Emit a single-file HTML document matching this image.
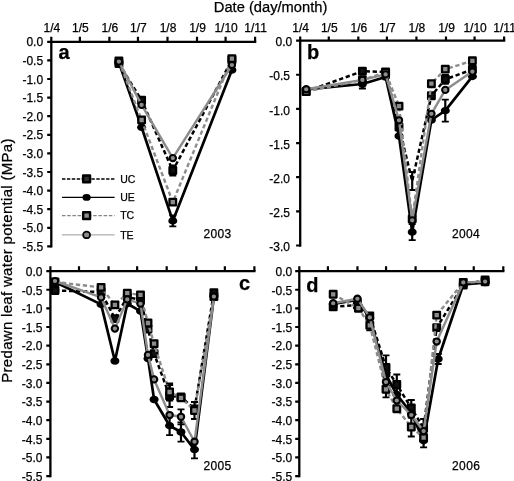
<!DOCTYPE html>
<html><head><meta charset="utf-8"><title>Predawn leaf water potential</title>
<style>
html,body{margin:0;padding:0;background:#fff;}
body{width:514px;height:481px;overflow:hidden;font-family:"Liberation Sans",sans-serif;}
svg{display:block;filter:grayscale(1);}
text{font-family:"Liberation Sans",sans-serif;fill:#000;stroke:#000;stroke-width:0.25px;}
.t{font-size:12px;}
.yr{letter-spacing:0.35px;}
.pl{font-size:20px;font-weight:bold;}
.ti{font-size:14.7px;}
.yl{font-size:15px;letter-spacing:0.3px;}
.lg{font-size:10.5px;}
</style></head><body>
<svg width="514" height="481" viewBox="0 0 514 481">
<rect width="514" height="481" fill="#fff"/>
<path d="M118.9 63.5 L141.6 100.3 L172.8 170.5 L231.9 60" fill="none" stroke="#000" stroke-width="2.5" stroke-dasharray="4.3 2.7" stroke-linejoin="round"/>
<path d="M172.8 165.5 V175.5" fill="none" stroke="#000" stroke-width="2.2"/><path d="M169.3 165.5 h7 M169.3 175.5 h7" fill="none" stroke="#000" stroke-width="1.8"/>
<rect x="115.6" y="60.2" width="6.6" height="6.6" fill="#111" stroke="#000" stroke-width="2.3" stroke-linejoin="round"/>
<rect x="138.3" y="97" width="6.6" height="6.6" fill="#111" stroke="#000" stroke-width="2.3" stroke-linejoin="round"/>
<rect x="169.5" y="167.2" width="6.6" height="6.6" fill="#111" stroke="#000" stroke-width="2.3" stroke-linejoin="round"/>
<rect x="228.6" y="56.7" width="6.6" height="6.6" fill="#111" stroke="#000" stroke-width="2.3" stroke-linejoin="round"/>
<path d="M118.9 62.5 L141.6 127.3 L172.8 220.9 L231.9 70" fill="none" stroke="#000" stroke-width="2.7" stroke-linejoin="round"/>
<path d="M172.8 215.4 V226.4" fill="none" stroke="#000" stroke-width="2.2"/><path d="M169.3 215.4 h7 M169.3 226.4 h7" fill="none" stroke="#000" stroke-width="1.8"/>
<ellipse cx="118.9" cy="62.5" rx="4.5" ry="3.75" fill="#000"/>
<ellipse cx="141.6" cy="127.3" rx="4.5" ry="3.75" fill="#000"/>
<ellipse cx="172.8" cy="220.9" rx="4.5" ry="3.75" fill="#000"/>
<ellipse cx="231.9" cy="70" rx="4.5" ry="3.75" fill="#000"/>
<path d="M118.9 61 L141.6 120 L172.8 202.1 L231.9 58.6" fill="none" stroke="#8c8c8c" stroke-width="2.4" stroke-dasharray="4.3 2.7" stroke-linejoin="round"/>
<rect x="115.6" y="57.7" width="6.6" height="6.6" fill="#8c8c8c" stroke="#000" stroke-width="2.3" stroke-linejoin="round"/>
<rect x="138.3" y="116.7" width="6.6" height="6.6" fill="#8c8c8c" stroke="#000" stroke-width="2.3" stroke-linejoin="round"/>
<rect x="169.5" y="198.8" width="6.6" height="6.6" fill="#8c8c8c" stroke="#000" stroke-width="2.3" stroke-linejoin="round"/>
<rect x="228.6" y="55.3" width="6.6" height="6.6" fill="#8c8c8c" stroke="#000" stroke-width="2.3" stroke-linejoin="round"/>
<path d="M118.9 61.6 L141.6 104.9 L172.8 158.1 L231.9 65" fill="none" stroke="#8c8c8c" stroke-width="2.4" stroke-linejoin="round"/>
<ellipse cx="118.9" cy="61.6" rx="3.2" ry="3.1" fill="#8c8c8c" stroke="#000" stroke-width="2.05"/>
<ellipse cx="141.6" cy="104.9" rx="3.2" ry="3.1" fill="#8c8c8c" stroke="#000" stroke-width="2.05"/>
<ellipse cx="172.8" cy="158.1" rx="3.2" ry="3.1" fill="#8c8c8c" stroke="#000" stroke-width="2.05"/>
<ellipse cx="231.9" cy="65" rx="3.2" ry="3.1" fill="#8c8c8c" stroke="#000" stroke-width="2.05"/>
<path d="M51.3 247.55 V41.8 H256.25" fill="none" stroke="#000" stroke-width="2.3" stroke-linejoin="miter"/>
<path d="M51.3 41.8 V36.8 M79.87 41.8 V36.8 M109.39 41.8 V36.8 M137.96 41.8 V36.8 M167.49 41.8 V36.8 M197.01 41.8 V36.8 M225.58 41.8 V36.8 M255.1 41.8 V36.8 M51.3 41.8 h-4.1 M51.3 60.4 h-4.1 M51.3 79 h-4.1 M51.3 97.6 h-4.1 M51.3 116.2 h-4.1 M51.3 134.8 h-4.1 M51.3 153.4 h-4.1 M51.3 172 h-4.1 M51.3 190.6 h-4.1 M51.3 209.2 h-4.1 M51.3 227.8 h-4.1 M51.3 246.4 h-4.1" fill="none" stroke="#000" stroke-width="2.2"/>
<text x="43.1" y="46.4" text-anchor="end" class="t">0.0</text>
<text x="43.1" y="65" text-anchor="end" class="t">-0.5</text>
<text x="43.1" y="83.6" text-anchor="end" class="t">-1.0</text>
<text x="43.1" y="102.2" text-anchor="end" class="t">-1.5</text>
<text x="43.1" y="120.8" text-anchor="end" class="t">-2.0</text>
<text x="43.1" y="139.4" text-anchor="end" class="t">-2.5</text>
<text x="43.1" y="158" text-anchor="end" class="t">-3.0</text>
<text x="43.1" y="176.6" text-anchor="end" class="t">-3.5</text>
<text x="43.1" y="195.2" text-anchor="end" class="t">-4.0</text>
<text x="43.1" y="213.8" text-anchor="end" class="t">-4.5</text>
<text x="43.1" y="232.4" text-anchor="end" class="t">-5.0</text>
<text x="43.1" y="251" text-anchor="end" class="t">-5.5</text>
<text x="51.8" y="32.2" text-anchor="middle" class="t">1/4</text>
<text x="80.37" y="32.2" text-anchor="middle" class="t">1/5</text>
<text x="109.89" y="32.2" text-anchor="middle" class="t">1/6</text>
<text x="138.46" y="32.2" text-anchor="middle" class="t">1/7</text>
<text x="167.99" y="32.2" text-anchor="middle" class="t">1/8</text>
<text x="197.51" y="32.2" text-anchor="middle" class="t">1/9</text>
<text x="226.08" y="32.2" text-anchor="middle" class="t">1/10</text>
<text x="255.6" y="32.2" text-anchor="middle" class="t">1/11</text>
<path d="M306.2 91.5 L362.4 71.2 L385.6 72 L399 127 L412.2 181 L431.4 95.7 L445.3 79.3 L472.4 69.5" fill="none" stroke="#000" stroke-width="2.5" stroke-dasharray="4.3 2.7" stroke-linejoin="round"/>
<path d="M412.2 172 V190" fill="none" stroke="#000" stroke-width="2.2"/><path d="M408.7 172 h7 M408.7 190 h7" fill="none" stroke="#000" stroke-width="1.8"/>
<path d="M445.3 74.8 V83.8" fill="none" stroke="#000" stroke-width="2.2"/><path d="M441.8 74.8 h7 M441.8 83.8 h7" fill="none" stroke="#000" stroke-width="1.8"/>
<rect x="302.9" y="88.2" width="6.6" height="6.6" fill="#111" stroke="#000" stroke-width="2.3" stroke-linejoin="round"/>
<rect x="359.1" y="67.9" width="6.6" height="6.6" fill="#111" stroke="#000" stroke-width="2.3" stroke-linejoin="round"/>
<rect x="382.3" y="68.7" width="6.6" height="6.6" fill="#111" stroke="#000" stroke-width="2.3" stroke-linejoin="round"/>
<rect x="395.7" y="123.7" width="6.6" height="6.6" fill="#111" stroke="#000" stroke-width="2.3" stroke-linejoin="round"/>
<rect x="428.1" y="92.4" width="6.6" height="6.6" fill="#111" stroke="#000" stroke-width="2.3" stroke-linejoin="round"/>
<rect x="442" y="76" width="6.6" height="6.6" fill="#111" stroke="#000" stroke-width="2.3" stroke-linejoin="round"/>
<rect x="469.1" y="66.2" width="6.6" height="6.6" fill="#111" stroke="#000" stroke-width="2.3" stroke-linejoin="round"/>
<path d="M306.2 89.5 L362.4 84 L385.6 77 L399 136 L412.2 232.1 L431.4 120 L445.3 110.7 L472.4 76.4" fill="none" stroke="#000" stroke-width="2.7" stroke-linejoin="round"/>
<path d="M362.4 79.5 V88.5" fill="none" stroke="#000" stroke-width="2.2"/><path d="M358.9 79.5 h7 M358.9 88.5 h7" fill="none" stroke="#000" stroke-width="1.8"/>
<path d="M412.2 224.1 V240.1" fill="none" stroke="#000" stroke-width="2.2"/><path d="M408.7 224.1 h7 M408.7 240.1 h7" fill="none" stroke="#000" stroke-width="1.8"/>
<path d="M445.3 99.7 V121.7" fill="none" stroke="#000" stroke-width="2.2"/><path d="M441.8 99.7 h7 M441.8 121.7 h7" fill="none" stroke="#000" stroke-width="1.8"/>
<ellipse cx="306.2" cy="89.5" rx="4.5" ry="3.75" fill="#000"/>
<ellipse cx="362.4" cy="84" rx="4.5" ry="3.75" fill="#000"/>
<ellipse cx="385.6" cy="77" rx="4.5" ry="3.75" fill="#000"/>
<ellipse cx="399" cy="136" rx="4.5" ry="3.75" fill="#000"/>
<ellipse cx="412.2" cy="232.1" rx="4.5" ry="3.75" fill="#000"/>
<ellipse cx="431.4" cy="120" rx="4.5" ry="3.75" fill="#000"/>
<ellipse cx="445.3" cy="110.7" rx="4.5" ry="3.75" fill="#000"/>
<ellipse cx="472.4" cy="76.4" rx="4.5" ry="3.75" fill="#000"/>
<path d="M306.2 91.5 L362.4 80 L385.6 72.4 L399 106.1 L412.2 219 L431.4 83.7 L445.3 69.1 L472.4 60.8" fill="none" stroke="#8c8c8c" stroke-width="2.4" stroke-dasharray="4.3 2.7" stroke-linejoin="round"/>
<rect x="302.9" y="88.2" width="6.6" height="6.6" fill="#8c8c8c" stroke="#000" stroke-width="2.3" stroke-linejoin="round"/>
<rect x="359.1" y="76.7" width="6.6" height="6.6" fill="#8c8c8c" stroke="#000" stroke-width="2.3" stroke-linejoin="round"/>
<rect x="382.3" y="69.1" width="6.6" height="6.6" fill="#8c8c8c" stroke="#000" stroke-width="2.3" stroke-linejoin="round"/>
<rect x="395.7" y="102.8" width="6.6" height="6.6" fill="#8c8c8c" stroke="#000" stroke-width="2.3" stroke-linejoin="round"/>
<rect x="408.9" y="215.7" width="6.6" height="6.6" fill="#8c8c8c" stroke="#000" stroke-width="2.3" stroke-linejoin="round"/>
<rect x="428.1" y="80.4" width="6.6" height="6.6" fill="#8c8c8c" stroke="#000" stroke-width="2.3" stroke-linejoin="round"/>
<rect x="442" y="65.8" width="6.6" height="6.6" fill="#8c8c8c" stroke="#000" stroke-width="2.3" stroke-linejoin="round"/>
<rect x="469.1" y="57.5" width="6.6" height="6.6" fill="#8c8c8c" stroke="#000" stroke-width="2.3" stroke-linejoin="round"/>
<path d="M306.2 89.2 L362.4 79.9 L385.6 74.4 L399 120.3 L412.2 220.3 L431.4 113.8 L445.3 89.9 L472.4 71.6" fill="none" stroke="#8c8c8c" stroke-width="2.4" stroke-linejoin="round"/>
<ellipse cx="306.2" cy="89.2" rx="3.2" ry="3.1" fill="#8c8c8c" stroke="#000" stroke-width="2.05"/>
<ellipse cx="362.4" cy="79.9" rx="3.2" ry="3.1" fill="#8c8c8c" stroke="#000" stroke-width="2.05"/>
<ellipse cx="385.6" cy="74.4" rx="3.2" ry="3.1" fill="#8c8c8c" stroke="#000" stroke-width="2.05"/>
<ellipse cx="399" cy="120.3" rx="3.2" ry="3.1" fill="#8c8c8c" stroke="#000" stroke-width="2.05"/>
<ellipse cx="412.2" cy="220.3" rx="3.2" ry="3.1" fill="#8c8c8c" stroke="#000" stroke-width="2.05"/>
<ellipse cx="431.4" cy="113.8" rx="3.2" ry="3.1" fill="#8c8c8c" stroke="#000" stroke-width="2.05"/>
<ellipse cx="445.3" cy="89.9" rx="3.2" ry="3.1" fill="#8c8c8c" stroke="#000" stroke-width="2.05"/>
<ellipse cx="472.4" cy="71.6" rx="3.2" ry="3.1" fill="#8c8c8c" stroke="#000" stroke-width="2.05"/>
<path d="M300.2 246.65 V40.6 H505.25" fill="none" stroke="#000" stroke-width="2.3" stroke-linejoin="miter"/>
<path d="M300.2 40.6 V36.6 M328.78 40.6 V36.6 M358.32 40.6 V36.6 M386.91 40.6 V36.6 M416.44 40.6 V36.6 M445.98 40.6 V36.6 M474.56 40.6 V36.6 M504.1 40.6 V36.6 M300.2 40.6 h-4.1 M300.2 74.75 h-4.1 M300.2 108.9 h-4.1 M300.2 143.05 h-4.1 M300.2 177.2 h-4.1 M300.2 211.35 h-4.1 M300.2 245.5 h-4.1" fill="none" stroke="#000" stroke-width="2.2"/>
<text x="292.3" y="46.2" text-anchor="end" class="t">0.0</text>
<text x="290" y="80.35" text-anchor="end" class="t">-0.5</text>
<text x="290" y="114.5" text-anchor="end" class="t">-1.0</text>
<text x="290" y="148.65" text-anchor="end" class="t">-1.5</text>
<text x="290" y="182.8" text-anchor="end" class="t">-2.0</text>
<text x="290" y="216.95" text-anchor="end" class="t">-2.5</text>
<text x="290" y="251.1" text-anchor="end" class="t">-3.0</text>
<text x="300.7" y="31.7" text-anchor="middle" class="t">1/4</text>
<text x="329.28" y="31.7" text-anchor="middle" class="t">1/5</text>
<text x="358.82" y="31.7" text-anchor="middle" class="t">1/6</text>
<text x="387.41" y="31.7" text-anchor="middle" class="t">1/7</text>
<text x="416.94" y="31.7" text-anchor="middle" class="t">1/8</text>
<text x="446.48" y="31.7" text-anchor="middle" class="t">1/9</text>
<text x="475.06" y="31.7" text-anchor="middle" class="t">1/10</text>
<text x="504.6" y="31.7" text-anchor="middle" class="t">1/11</text>
<path d="M55 290.5 L101.1 292 L114.9 318.6 L127.3 297 L140.5 300 L148 329 L154.1 353.6 L169.6 396 L181 397 L194.5 409 L213.9 292.8" fill="none" stroke="#000" stroke-width="2.5" stroke-dasharray="4.3 2.7" stroke-linejoin="round"/>
<path d="M169.6 385 V407" fill="none" stroke="#000" stroke-width="2.2"/><path d="M166.1 385 h7 M166.1 407 h7" fill="none" stroke="#000" stroke-width="1.8"/>
<rect x="51.7" y="287.2" width="6.6" height="6.6" fill="#111" stroke="#000" stroke-width="2.3" stroke-linejoin="round"/>
<rect x="97.8" y="288.7" width="6.6" height="6.6" fill="#111" stroke="#000" stroke-width="2.3" stroke-linejoin="round"/>
<rect x="111.6" y="315.3" width="6.6" height="6.6" fill="#111" stroke="#000" stroke-width="2.3" stroke-linejoin="round"/>
<rect x="124" y="293.7" width="6.6" height="6.6" fill="#111" stroke="#000" stroke-width="2.3" stroke-linejoin="round"/>
<rect x="137.2" y="296.7" width="6.6" height="6.6" fill="#111" stroke="#000" stroke-width="2.3" stroke-linejoin="round"/>
<rect x="144.7" y="325.7" width="6.6" height="6.6" fill="#111" stroke="#000" stroke-width="2.3" stroke-linejoin="round"/>
<rect x="150.8" y="350.3" width="6.6" height="6.6" fill="#111" stroke="#000" stroke-width="2.3" stroke-linejoin="round"/>
<rect x="166.3" y="392.7" width="6.6" height="6.6" fill="#111" stroke="#000" stroke-width="2.3" stroke-linejoin="round"/>
<rect x="177.7" y="393.7" width="6.6" height="6.6" fill="#111" stroke="#000" stroke-width="2.3" stroke-linejoin="round"/>
<rect x="191.2" y="405.7" width="6.6" height="6.6" fill="#111" stroke="#000" stroke-width="2.3" stroke-linejoin="round"/>
<rect x="210.6" y="289.5" width="6.6" height="6.6" fill="#111" stroke="#000" stroke-width="2.3" stroke-linejoin="round"/>
<path d="M55 282 L101.1 304.4 L114.9 361 L127.3 303.7 L140.5 311.1 L148 358.6 L154.1 399.5 L169.6 425.7 L181 432 L194.5 449.6 L213.9 296.5" fill="none" stroke="#000" stroke-width="2.7" stroke-linejoin="round"/>
<path d="M169.6 416.2 V435.2" fill="none" stroke="#000" stroke-width="2.2"/><path d="M166.1 416.2 h7 M166.1 435.2 h7" fill="none" stroke="#000" stroke-width="1.8"/>
<path d="M181 422.3 V441.7" fill="none" stroke="#000" stroke-width="2.2"/><path d="M177.5 422.3 h7 M177.5 441.7 h7" fill="none" stroke="#000" stroke-width="1.8"/>
<path d="M194.5 440.8 V458.4" fill="none" stroke="#000" stroke-width="2.2"/><path d="M191 440.8 h7 M191 458.4 h7" fill="none" stroke="#000" stroke-width="1.8"/>
<ellipse cx="55" cy="282" rx="4.5" ry="3.75" fill="#000"/>
<ellipse cx="101.1" cy="304.4" rx="4.5" ry="3.75" fill="#000"/>
<ellipse cx="114.9" cy="361" rx="4.5" ry="3.75" fill="#000"/>
<ellipse cx="127.3" cy="303.7" rx="4.5" ry="3.75" fill="#000"/>
<ellipse cx="140.5" cy="311.1" rx="4.5" ry="3.75" fill="#000"/>
<ellipse cx="148" cy="358.6" rx="4.5" ry="3.75" fill="#000"/>
<ellipse cx="154.1" cy="399.5" rx="4.5" ry="3.75" fill="#000"/>
<ellipse cx="169.6" cy="425.7" rx="4.5" ry="3.75" fill="#000"/>
<ellipse cx="181" cy="432" rx="4.5" ry="3.75" fill="#000"/>
<ellipse cx="194.5" cy="449.6" rx="4.5" ry="3.75" fill="#000"/>
<ellipse cx="213.9" cy="296.5" rx="4.5" ry="3.75" fill="#000"/>
<path d="M55 282 L101.1 287.4 L114.9 304.9 L127.3 293.2 L140.5 294.9 L148 323 L154.1 343.7 L169.6 392 L181 397.8 L194.5 410.5 L213.9 296.6" fill="none" stroke="#8c8c8c" stroke-width="2.4" stroke-dasharray="4.3 2.7" stroke-linejoin="round"/>
<path d="M169.6 383.5 V400.5" fill="none" stroke="#000" stroke-width="2.2"/><path d="M166.1 383.5 h7 M166.1 400.5 h7" fill="none" stroke="#000" stroke-width="1.8"/>
<path d="M194.5 402 V419" fill="none" stroke="#000" stroke-width="2.2"/><path d="M191 402 h7 M191 419 h7" fill="none" stroke="#000" stroke-width="1.8"/>
<rect x="51.7" y="278.7" width="6.6" height="6.6" fill="#8c8c8c" stroke="#000" stroke-width="2.3" stroke-linejoin="round"/>
<rect x="97.8" y="284.1" width="6.6" height="6.6" fill="#8c8c8c" stroke="#000" stroke-width="2.3" stroke-linejoin="round"/>
<rect x="111.6" y="301.6" width="6.6" height="6.6" fill="#8c8c8c" stroke="#000" stroke-width="2.3" stroke-linejoin="round"/>
<rect x="124" y="289.9" width="6.6" height="6.6" fill="#8c8c8c" stroke="#000" stroke-width="2.3" stroke-linejoin="round"/>
<rect x="137.2" y="291.6" width="6.6" height="6.6" fill="#8c8c8c" stroke="#000" stroke-width="2.3" stroke-linejoin="round"/>
<rect x="144.7" y="319.7" width="6.6" height="6.6" fill="#8c8c8c" stroke="#000" stroke-width="2.3" stroke-linejoin="round"/>
<rect x="150.8" y="340.4" width="6.6" height="6.6" fill="#8c8c8c" stroke="#000" stroke-width="2.3" stroke-linejoin="round"/>
<rect x="166.3" y="388.7" width="6.6" height="6.6" fill="#8c8c8c" stroke="#000" stroke-width="2.3" stroke-linejoin="round"/>
<rect x="177.7" y="394.5" width="6.6" height="6.6" fill="#8c8c8c" stroke="#000" stroke-width="2.3" stroke-linejoin="round"/>
<rect x="191.2" y="407.2" width="6.6" height="6.6" fill="#8c8c8c" stroke="#000" stroke-width="2.3" stroke-linejoin="round"/>
<rect x="210.6" y="293.3" width="6.6" height="6.6" fill="#8c8c8c" stroke="#000" stroke-width="2.3" stroke-linejoin="round"/>
<path d="M55 281 L101.1 297.4 L114.9 328.6 L127.3 299.4 L140.5 303.7 L148 354.9 L154.1 379.4 L169.6 415 L181 416.8 L194.5 441.7 L213.9 296.6" fill="none" stroke="#8c8c8c" stroke-width="2.4" stroke-linejoin="round"/>
<path d="M181 409.3 V424.3" fill="none" stroke="#000" stroke-width="2.2"/><path d="M177.5 409.3 h7 M177.5 424.3 h7" fill="none" stroke="#000" stroke-width="1.8"/>
<ellipse cx="55" cy="281" rx="3.2" ry="3.1" fill="#8c8c8c" stroke="#000" stroke-width="2.05"/>
<ellipse cx="101.1" cy="297.4" rx="3.2" ry="3.1" fill="#8c8c8c" stroke="#000" stroke-width="2.05"/>
<ellipse cx="114.9" cy="328.6" rx="3.2" ry="3.1" fill="#8c8c8c" stroke="#000" stroke-width="2.05"/>
<ellipse cx="127.3" cy="299.4" rx="3.2" ry="3.1" fill="#8c8c8c" stroke="#000" stroke-width="2.05"/>
<ellipse cx="140.5" cy="303.7" rx="3.2" ry="3.1" fill="#8c8c8c" stroke="#000" stroke-width="2.05"/>
<ellipse cx="148" cy="354.9" rx="3.2" ry="3.1" fill="#8c8c8c" stroke="#000" stroke-width="2.05"/>
<ellipse cx="154.1" cy="379.4" rx="3.2" ry="3.1" fill="#8c8c8c" stroke="#000" stroke-width="2.05"/>
<ellipse cx="169.6" cy="415" rx="3.2" ry="3.1" fill="#8c8c8c" stroke="#000" stroke-width="2.05"/>
<ellipse cx="181" cy="416.8" rx="3.2" ry="3.1" fill="#8c8c8c" stroke="#000" stroke-width="2.05"/>
<ellipse cx="194.5" cy="441.7" rx="3.2" ry="3.1" fill="#8c8c8c" stroke="#000" stroke-width="2.05"/>
<ellipse cx="213.9" cy="296.6" rx="3.2" ry="3.1" fill="#8c8c8c" stroke="#000" stroke-width="2.05"/>
<path d="M50.4 477.25 V271.1 H255.55" fill="none" stroke="#000" stroke-width="2.3" stroke-linejoin="miter"/>
<path d="M50.4 271.1 V266.3 M79 271.1 V266.3 M108.55 271.1 V266.3 M137.15 271.1 V266.3 M166.7 271.1 V266.3 M196.25 271.1 V266.3 M224.85 271.1 V266.3 M254.4 271.1 V266.3 M50.4 271.1 h-4.1 M50.4 289.74 h-4.1 M50.4 308.37 h-4.1 M50.4 327.01 h-4.1 M50.4 345.65 h-4.1 M50.4 364.28 h-4.1 M50.4 382.92 h-4.1 M50.4 401.55 h-4.1 M50.4 420.19 h-4.1 M50.4 438.83 h-4.1 M50.4 457.46 h-4.1 M50.4 476.1 h-4.1" fill="none" stroke="#000" stroke-width="2.2"/>
<text x="42.5" y="275.9" text-anchor="end" class="t">0.0</text>
<text x="42.5" y="294.54" text-anchor="end" class="t">-0.5</text>
<text x="42.5" y="313.17" text-anchor="end" class="t">-1.0</text>
<text x="42.5" y="331.81" text-anchor="end" class="t">-1.5</text>
<text x="42.5" y="350.45" text-anchor="end" class="t">-2.0</text>
<text x="42.5" y="369.08" text-anchor="end" class="t">-2.5</text>
<text x="42.5" y="387.72" text-anchor="end" class="t">-3.0</text>
<text x="42.5" y="406.35" text-anchor="end" class="t">-3.5</text>
<text x="42.5" y="424.99" text-anchor="end" class="t">-4.0</text>
<text x="42.5" y="443.63" text-anchor="end" class="t">-4.5</text>
<text x="42.5" y="462.26" text-anchor="end" class="t">-5.0</text>
<text x="42.5" y="480.9" text-anchor="end" class="t">-5.5</text>
<path d="M333.2 306.9 L357.4 305 L369.8 316 L386 367.4 L396.8 384.5 L411.3 408 L423.6 428 L436.7 327.6 L463.3 285 L485.1 279.9" fill="none" stroke="#000" stroke-width="2.5" stroke-dasharray="4.3 2.7" stroke-linejoin="round"/>
<path d="M386 355.4 V379.4" fill="none" stroke="#000" stroke-width="2.2"/><path d="M382.5 355.4 h7 M382.5 379.4 h7" fill="none" stroke="#000" stroke-width="1.8"/>
<path d="M396.8 374.5 V394.5" fill="none" stroke="#000" stroke-width="2.2"/><path d="M393.3 374.5 h7 M393.3 394.5 h7" fill="none" stroke="#000" stroke-width="1.8"/>
<path d="M411.3 400 V416" fill="none" stroke="#000" stroke-width="2.2"/><path d="M407.8 400 h7 M407.8 416 h7" fill="none" stroke="#000" stroke-width="1.8"/>
<path d="M423.6 419 V437" fill="none" stroke="#000" stroke-width="2.2"/><path d="M420.1 419 h7 M420.1 437 h7" fill="none" stroke="#000" stroke-width="1.8"/>
<rect x="329.9" y="303.6" width="6.6" height="6.6" fill="#111" stroke="#000" stroke-width="2.3" stroke-linejoin="round"/>
<rect x="354.1" y="301.7" width="6.6" height="6.6" fill="#111" stroke="#000" stroke-width="2.3" stroke-linejoin="round"/>
<rect x="366.5" y="312.7" width="6.6" height="6.6" fill="#111" stroke="#000" stroke-width="2.3" stroke-linejoin="round"/>
<rect x="382.7" y="364.1" width="6.6" height="6.6" fill="#111" stroke="#000" stroke-width="2.3" stroke-linejoin="round"/>
<rect x="393.5" y="381.2" width="6.6" height="6.6" fill="#111" stroke="#000" stroke-width="2.3" stroke-linejoin="round"/>
<rect x="408" y="404.7" width="6.6" height="6.6" fill="#111" stroke="#000" stroke-width="2.3" stroke-linejoin="round"/>
<rect x="420.3" y="424.7" width="6.6" height="6.6" fill="#111" stroke="#000" stroke-width="2.3" stroke-linejoin="round"/>
<rect x="433.4" y="324.3" width="6.6" height="6.6" fill="#111" stroke="#000" stroke-width="2.3" stroke-linejoin="round"/>
<rect x="460" y="281.7" width="6.6" height="6.6" fill="#111" stroke="#000" stroke-width="2.3" stroke-linejoin="round"/>
<rect x="481.8" y="276.6" width="6.6" height="6.6" fill="#111" stroke="#000" stroke-width="2.3" stroke-linejoin="round"/>
<path d="M333.2 304 L357.4 300 L369.8 318 L386 375 L396.8 394.5 L411.3 413 L423.6 440.7 L438.2 359 L463.3 284.5 L485.1 282.6" fill="none" stroke="#000" stroke-width="2.7" stroke-linejoin="round"/>
<path d="M423.6 434 V447.4" fill="none" stroke="#000" stroke-width="2.2"/><path d="M420.1 434 h7 M420.1 447.4 h7" fill="none" stroke="#000" stroke-width="1.8"/>
<path d="M438.2 354 V364" fill="none" stroke="#000" stroke-width="2.2"/><path d="M434.7 354 h7 M434.7 364 h7" fill="none" stroke="#000" stroke-width="1.8"/>
<ellipse cx="333.2" cy="304" rx="4.5" ry="3.75" fill="#000"/>
<ellipse cx="357.4" cy="300" rx="4.5" ry="3.75" fill="#000"/>
<ellipse cx="369.8" cy="318" rx="4.5" ry="3.75" fill="#000"/>
<ellipse cx="386" cy="375" rx="4.5" ry="3.75" fill="#000"/>
<ellipse cx="396.8" cy="394.5" rx="4.5" ry="3.75" fill="#000"/>
<ellipse cx="411.3" cy="413" rx="4.5" ry="3.75" fill="#000"/>
<ellipse cx="423.6" cy="440.7" rx="4.5" ry="3.75" fill="#000"/>
<ellipse cx="438.2" cy="359" rx="4.5" ry="3.75" fill="#000"/>
<ellipse cx="463.3" cy="284.5" rx="4.5" ry="3.75" fill="#000"/>
<ellipse cx="485.1" cy="282.6" rx="4.5" ry="3.75" fill="#000"/>
<path d="M333.2 294.3 L358.4 308.2 L369.8 325.4 L386 389.3 L396.8 408.7 L411.3 427 L423.6 437.7 L436.7 315.1 L463.3 282.4 L485.1 281.8" fill="none" stroke="#8c8c8c" stroke-width="2.4" stroke-dasharray="4.3 2.7" stroke-linejoin="round"/>
<path d="M369.8 320.4 V330.4" fill="none" stroke="#000" stroke-width="2.2"/><path d="M366.3 320.4 h7 M366.3 330.4 h7" fill="none" stroke="#000" stroke-width="1.8"/>
<path d="M386 381.3 V397.3" fill="none" stroke="#000" stroke-width="2.2"/><path d="M382.5 381.3 h7 M382.5 397.3 h7" fill="none" stroke="#000" stroke-width="1.8"/>
<path d="M411.3 417.5 V436.5" fill="none" stroke="#000" stroke-width="2.2"/><path d="M407.8 417.5 h7 M407.8 436.5 h7" fill="none" stroke="#000" stroke-width="1.8"/>
<rect x="329.9" y="291" width="6.6" height="6.6" fill="#8c8c8c" stroke="#000" stroke-width="2.3" stroke-linejoin="round"/>
<rect x="355.1" y="304.9" width="6.6" height="6.6" fill="#8c8c8c" stroke="#000" stroke-width="2.3" stroke-linejoin="round"/>
<rect x="366.5" y="322.1" width="6.6" height="6.6" fill="#8c8c8c" stroke="#000" stroke-width="2.3" stroke-linejoin="round"/>
<rect x="382.7" y="386" width="6.6" height="6.6" fill="#8c8c8c" stroke="#000" stroke-width="2.3" stroke-linejoin="round"/>
<rect x="393.5" y="405.4" width="6.6" height="6.6" fill="#8c8c8c" stroke="#000" stroke-width="2.3" stroke-linejoin="round"/>
<rect x="408" y="423.7" width="6.6" height="6.6" fill="#8c8c8c" stroke="#000" stroke-width="2.3" stroke-linejoin="round"/>
<rect x="420.3" y="434.4" width="6.6" height="6.6" fill="#8c8c8c" stroke="#000" stroke-width="2.3" stroke-linejoin="round"/>
<rect x="433.4" y="311.8" width="6.6" height="6.6" fill="#8c8c8c" stroke="#000" stroke-width="2.3" stroke-linejoin="round"/>
<rect x="460" y="279.1" width="6.6" height="6.6" fill="#8c8c8c" stroke="#000" stroke-width="2.3" stroke-linejoin="round"/>
<rect x="481.8" y="278.5" width="6.6" height="6.6" fill="#8c8c8c" stroke="#000" stroke-width="2.3" stroke-linejoin="round"/>
<path d="M333.2 303.2 L357.4 298.7 L369.8 317.4 L386 382 L396.8 400.5 L411.3 415 L423.6 431.1 L436.7 341.5 L463.3 282.4 L485.1 281.6" fill="none" stroke="#8c8c8c" stroke-width="2.4" stroke-linejoin="round"/>
<ellipse cx="333.2" cy="303.2" rx="3.2" ry="3.1" fill="#8c8c8c" stroke="#000" stroke-width="2.05"/>
<ellipse cx="357.4" cy="298.7" rx="3.2" ry="3.1" fill="#8c8c8c" stroke="#000" stroke-width="2.05"/>
<ellipse cx="369.8" cy="317.4" rx="3.2" ry="3.1" fill="#8c8c8c" stroke="#000" stroke-width="2.05"/>
<ellipse cx="386" cy="382" rx="3.2" ry="3.1" fill="#8c8c8c" stroke="#000" stroke-width="2.05"/>
<ellipse cx="396.8" cy="400.5" rx="3.2" ry="3.1" fill="#8c8c8c" stroke="#000" stroke-width="2.05"/>
<ellipse cx="411.3" cy="415" rx="3.2" ry="3.1" fill="#8c8c8c" stroke="#000" stroke-width="2.05"/>
<ellipse cx="423.6" cy="431.1" rx="3.2" ry="3.1" fill="#8c8c8c" stroke="#000" stroke-width="2.05"/>
<ellipse cx="436.7" cy="341.5" rx="3.2" ry="3.1" fill="#8c8c8c" stroke="#000" stroke-width="2.05"/>
<ellipse cx="463.3" cy="282.4" rx="3.2" ry="3.1" fill="#8c8c8c" stroke="#000" stroke-width="2.05"/>
<ellipse cx="485.1" cy="281.6" rx="3.2" ry="3.1" fill="#8c8c8c" stroke="#000" stroke-width="2.05"/>
<path d="M299.3 477.25 V271.1 H504.45" fill="none" stroke="#000" stroke-width="2.3" stroke-linejoin="miter"/>
<path d="M299.3 271.1 V266.2 M327.9 271.1 V266.2 M357.45 271.1 V266.2 M386.05 271.1 V266.2 M415.6 271.1 V266.2 M445.15 271.1 V266.2 M473.75 271.1 V266.2 M503.3 271.1 V266.2 M299.3 271.1 h-4.1 M299.3 289.74 h-4.1 M299.3 308.37 h-4.1 M299.3 327.01 h-4.1 M299.3 345.65 h-4.1 M299.3 364.28 h-4.1 M299.3 382.92 h-4.1 M299.3 401.55 h-4.1 M299.3 420.19 h-4.1 M299.3 438.83 h-4.1 M299.3 457.46 h-4.1 M299.3 476.1 h-4.1" fill="none" stroke="#000" stroke-width="2.2"/>
<text x="292.2" y="275.9" text-anchor="end" class="t">0.0</text>
<text x="292.2" y="294.54" text-anchor="end" class="t">-0.5</text>
<text x="292.2" y="313.17" text-anchor="end" class="t">-1.0</text>
<text x="292.2" y="331.81" text-anchor="end" class="t">-1.5</text>
<text x="292.2" y="350.45" text-anchor="end" class="t">-2.0</text>
<text x="292.2" y="369.08" text-anchor="end" class="t">-2.5</text>
<text x="292.2" y="387.72" text-anchor="end" class="t">-3.0</text>
<text x="292.2" y="406.35" text-anchor="end" class="t">-3.5</text>
<text x="292.2" y="424.99" text-anchor="end" class="t">-4.0</text>
<text x="292.2" y="443.63" text-anchor="end" class="t">-4.5</text>
<text x="292.2" y="462.26" text-anchor="end" class="t">-5.0</text>
<text x="292.2" y="480.9" text-anchor="end" class="t">-5.5</text>
<text x="58.6" y="58.9" class="pl">a</text>
<text x="307" y="58.9" class="pl">b</text>
<text x="239" y="290.3" class="pl">c</text>
<text x="306.3" y="292.3" class="pl">d</text>
<text x="203.5" y="238" class="t yr">2003</text>
<text x="452" y="238" class="t yr">2004</text>
<text x="203.4" y="469.8" class="t yr">2005</text>
<text x="452.1" y="469.8" class="t yr">2006</text>
<text x="270.6" y="11.5" text-anchor="middle" class="ti">Date (day/month)</text>
<text transform="translate(11.6 260.5) rotate(-90)" text-anchor="middle" class="yl">Predawn leaf water potential (MPa)</text>
<path d="M62 178.9 H114.6" fill="none" stroke="#000" stroke-width="1.55" stroke-dasharray="3.4 1.5"/>
<rect x="83.15" y="175.45" width="6.9" height="6.9" fill="#2e2e2e" stroke="#000" stroke-width="2.45" stroke-linejoin="round"/>
<text x="120.2" y="182.6" class="lg">UC</text>
<path d="M62 197.4 H114.6" fill="none" stroke="#000" stroke-width="1.15"/>
<ellipse cx="86.6" cy="197.4" rx="4.1" ry="3.35" fill="#000"/>
<text x="120.2" y="201.1" class="lg">UE</text>
<path d="M62 215.6 H114.6" fill="none" stroke="#858585" stroke-width="1.25" stroke-dasharray="3.5 1.7"/>
<rect x="83.15" y="212.15" width="6.9" height="6.9" fill="#8c8c8c" stroke="#000" stroke-width="2.45" stroke-linejoin="round"/>
<text x="120.2" y="219.3" class="lg">TC</text>
<path d="M62 234.9 H114.6" fill="none" stroke="#9a9a9a" stroke-width="1"/>
<ellipse cx="86.6" cy="234.9" rx="3.45" ry="3.35" fill="#8c8c8c" stroke="#000" stroke-width="1.75"/>
<text x="120.2" y="238.6" class="lg">TE</text>
</svg>
</body></html>
